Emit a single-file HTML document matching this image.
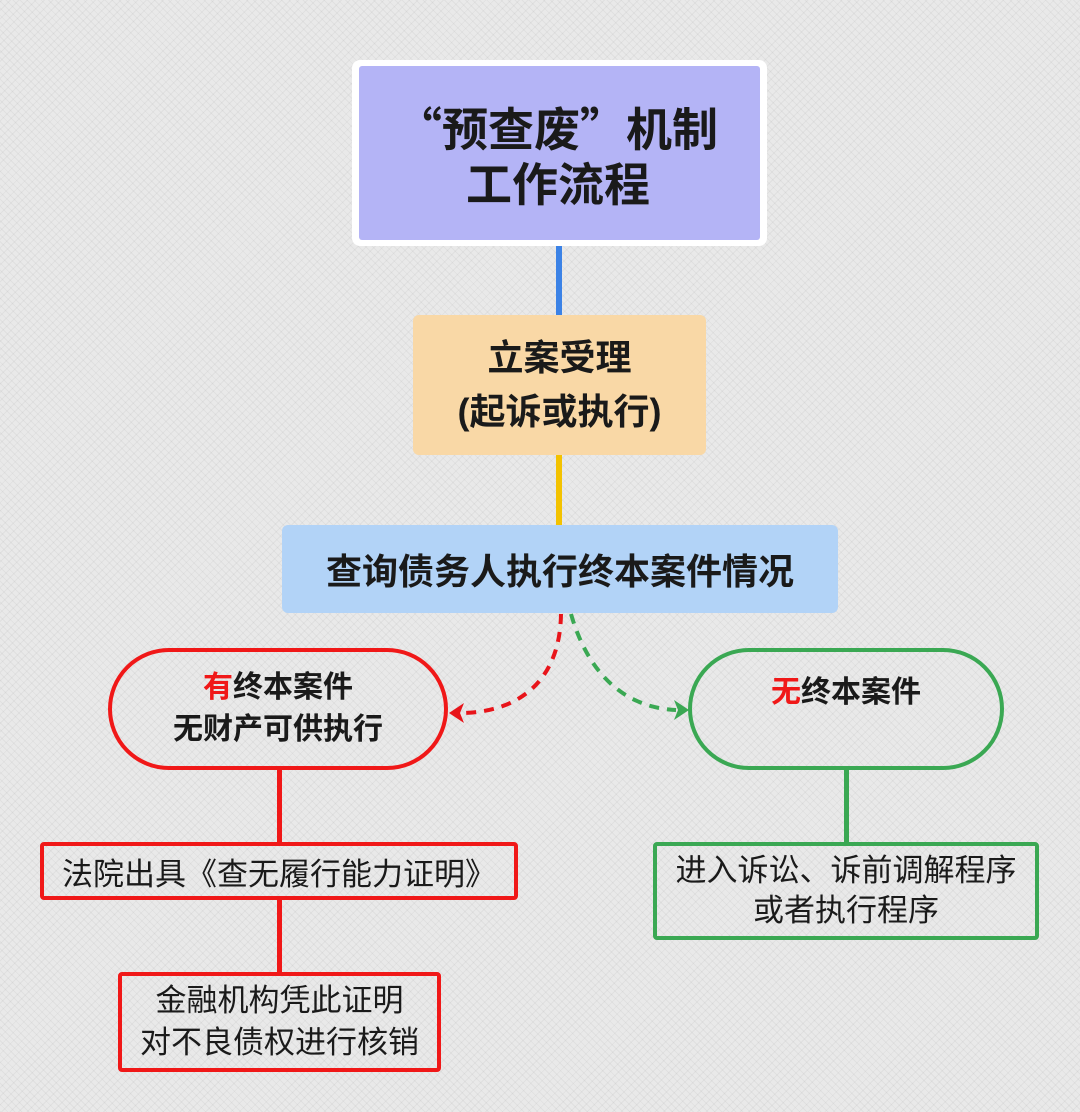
<!DOCTYPE html>
<html><head><meta charset="utf-8">
<style>
html,body{margin:0;padding:0}
body{width:1080px;height:1112px;position:relative;overflow:hidden;
background-color:#e9e9e9;
background-image:repeating-linear-gradient(45deg,rgba(0,0,0,0.04) 0 1px,transparent 1px 5px),repeating-linear-gradient(-45deg,rgba(0,0,0,0.04) 0 1px,transparent 1px 6px);
font-family:"Liberation Sans","Noto Sans CJK SC",sans-serif;color:#1a1a1a}
.a{position:absolute;box-sizing:border-box}
.t{position:absolute;white-space:nowrap}
.c{display:flex;align-items:center;justify-content:center;text-align:center;flex-direction:column}
</style></head><body>
<div class="a" style="left:352px;top:60px;width:415px;height:186px;background:#fff;border-radius:8px"></div>
<div class="a" style="left:359px;top:66px;width:401px;height:174px;background:#b4b4f6;border-radius:3px"></div>
<div class="t" style="left:396px;top:96px;font-size:46px;font-weight:bold;line-height:62px;font-family:'Noto Sans CJK SC',sans-serif">“预查废”机制</div>
<div class="t" style="left:466px;top:151px;font-size:46px;font-weight:bold;line-height:62px;font-family:'Noto Sans CJK SC',sans-serif">工作流程</div>

<div class="a" style="left:556px;top:246px;width:6px;height:70px;background:#3b82e6"></div>
<div class="a c" style="left:413px;top:315px;width:293px;height:140px;background:#f9d8a6;border-radius:6px;font-size:36px;font-weight:bold;line-height:54px">立案受理<br>(起诉或执行)</div>
<div class="a" style="left:556px;top:455px;width:6px;height:70px;background:#f3c200"></div>
<div class="a c" style="left:282px;top:525px;width:556px;height:88px;background:#b2d3f7;border-radius:6px;font-size:36px;font-weight:bold">查询债务人执行终本案件情况</div>

<svg class="a" style="left:0;top:0" width="1080" height="1112">
<path d="M561 614 C560 680 520 712 462 713" fill="none" stroke="#e8141a" stroke-width="4" stroke-dasharray="10 8"/>
<polygon points="449,713 464,703 460,713 464,723" fill="#e8141a"/>
<path d="M571 614 C590 680 630 708 676 710" fill="none" stroke="#3aa853" stroke-width="4" stroke-dasharray="10 8"/>
<polygon points="689,710 674,700 678,710 674,720" fill="#3aa853"/>
</svg>

<div class="a c" style="left:108px;top:648px;width:340px;height:122px;border:4px solid #f01818;border-radius:61px;font-size:30px;font-weight:bold;line-height:42px"><div><span style="color:#f01818">有</span>终本案件</div><div>无财产可供执行</div></div>
<div class="a c" style="left:688px;top:648px;width:316px;height:122px;border:4px solid #3aa853;border-radius:61px;font-size:30px;font-weight:bold;padding-bottom:40px"><div><span style="color:#f01818">无</span>终本案件</div></div>

<div class="a" style="left:277px;top:770px;width:5px;height:72px;background:#f01818"></div>
<div class="a c" style="left:40px;top:842px;width:478px;height:58px;border:4px solid #f01818;border-radius:4px;font-size:31px">法院出具《查无履行能力证明》</div>
<div class="a" style="left:277px;top:900px;width:5px;height:72px;background:#f01818"></div>
<div class="a c" style="left:118px;top:972px;width:323px;height:100px;border:4px solid #f01818;border-radius:4px;font-size:31px;line-height:42px">金融机构凭此证明<br>对不良债权进行核销</div>

<div class="a" style="left:844px;top:770px;width:5px;height:72px;background:#3aa853"></div>
<div class="a c" style="left:653px;top:842px;width:386px;height:98px;border:4px solid #3aa853;border-radius:4px;font-size:31px;line-height:40px">进入诉讼、诉前调解程序<br>或者执行程序</div>
</body></html>
